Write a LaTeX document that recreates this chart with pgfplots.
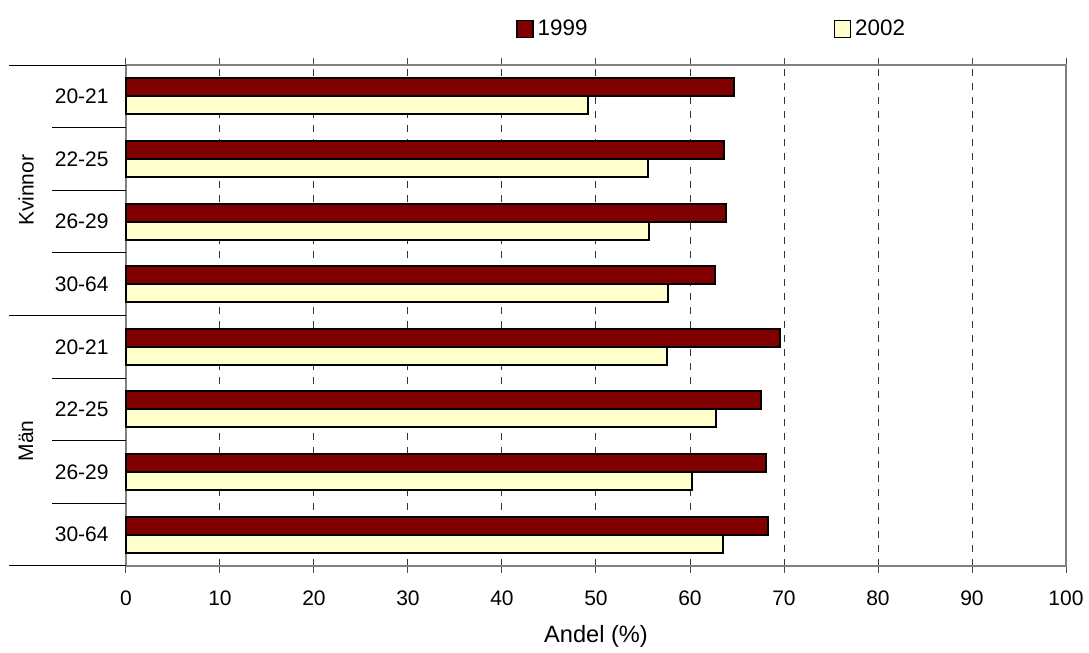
\documentclass[border=0pt]{standalone}
\usepackage{pgfplots}
\pgfplotsset{compat=1.18}
\usepackage{fontspec}
\setmainfont{Liberation Sans}
\definecolor{bar99}{HTML}{800000}
\definecolor{bar02}{HTML}{FFFFCC}
\definecolor{frame}{HTML}{808080}

\begin{document}
\begin{tikzpicture}
\fontsize{10.5}{12.6}\selectfont
\useasboundingbox (-63pt,-43.5pt) rectangle (481.5pt,283pt);
\begin{axis}[
  at={(0,0)}, anchor=south west,
  scale only axis, width=470pt, height=250.5pt,
  xbar, bar width=9pt,
  xmin=0, xmax=100, ymin=-0.5, ymax=7.5,
  xtick={0,10,...,100},
  ytick={0,...,7},
  yticklabels={30-64,26-29,22-25,20-21,30-64,26-29,22-25,20-21},
  /pgf/number format/assume math mode=true,
  tick label style={font=\fontsize{10.5}{12.6}\selectfont},
  ytick style={draw=none},
  yticklabel style={anchor=east, inner sep=0pt, xshift=-5pt},
  xtick style={draw=black!70, line width=0.5pt},
  tick align=outside, major tick length=3.5pt,
  xticklabel style={yshift=-5pt},
  xmajorgrids,
  grid style={draw=black!80, line width=0.5pt, dash pattern=on 3.5pt off 3.5pt},
  axis line style={draw=frame, line width=1pt},
  xlabel={Andel (\%)},
  xlabel style={at={(rel axis cs:0.5,0)}, anchor=center, yshift=-35pt,
    font=\fontsize{11.8}{14}\selectfont},
  clip=false,
  legend columns=2,
  legend style={draw=none, at={(0.624,1)}, anchor=center, yshift=18pt,
    font=\fontsize{11.2}{13.4}\selectfont,
    /tikz/every even column/.append style={column sep=121pt}},
  legend image code/.code={\draw[#1, draw=black, line width=0.8pt] (0pt,-4.2pt) rectangle (8pt,4.2pt);},
]
% 1999
\addplot[fill=bar99, draw=black, line width=1pt, bar shift=4.5pt] coordinates {
  (68.3,0) (68.1,1) (67.6,2) (69.6,3)
  (62.7,4) (63.8,5) (63.6,6) (64.7,7)};
% 2002
\addplot[fill=bar02, draw=black, line width=1pt, bar shift=-4.5pt] coordinates {
  (63.5,0) (60.2,1) (62.8,2) (57.6,3)
  (57.7,4) (55.6,5) (55.5,6) (49.1,7)};
\legend{1999,2002}

% category separators
\pgfplotsinvokeforeach{0.5,1.5,2.5,4.5,5.5,6.5}{
  \draw[black, line width=0.5pt] ([xshift=-37pt]axis cs:0,#1) -- (axis cs:0,#1);
}
\pgfplotsinvokeforeach{-0.5,3.5,7.5}{
  \draw[black, line width=0.5pt] ([xshift=-58.5pt]axis cs:0,#1) -- (axis cs:0,#1);
}
\node[rotate=90] at ([xshift=-50pt]axis cs:0,5.5) {Kvinnor};
\node[rotate=90] at ([xshift=-50pt]axis cs:0,1.5) {Män};
\end{axis}
\end{tikzpicture}
\end{document}
